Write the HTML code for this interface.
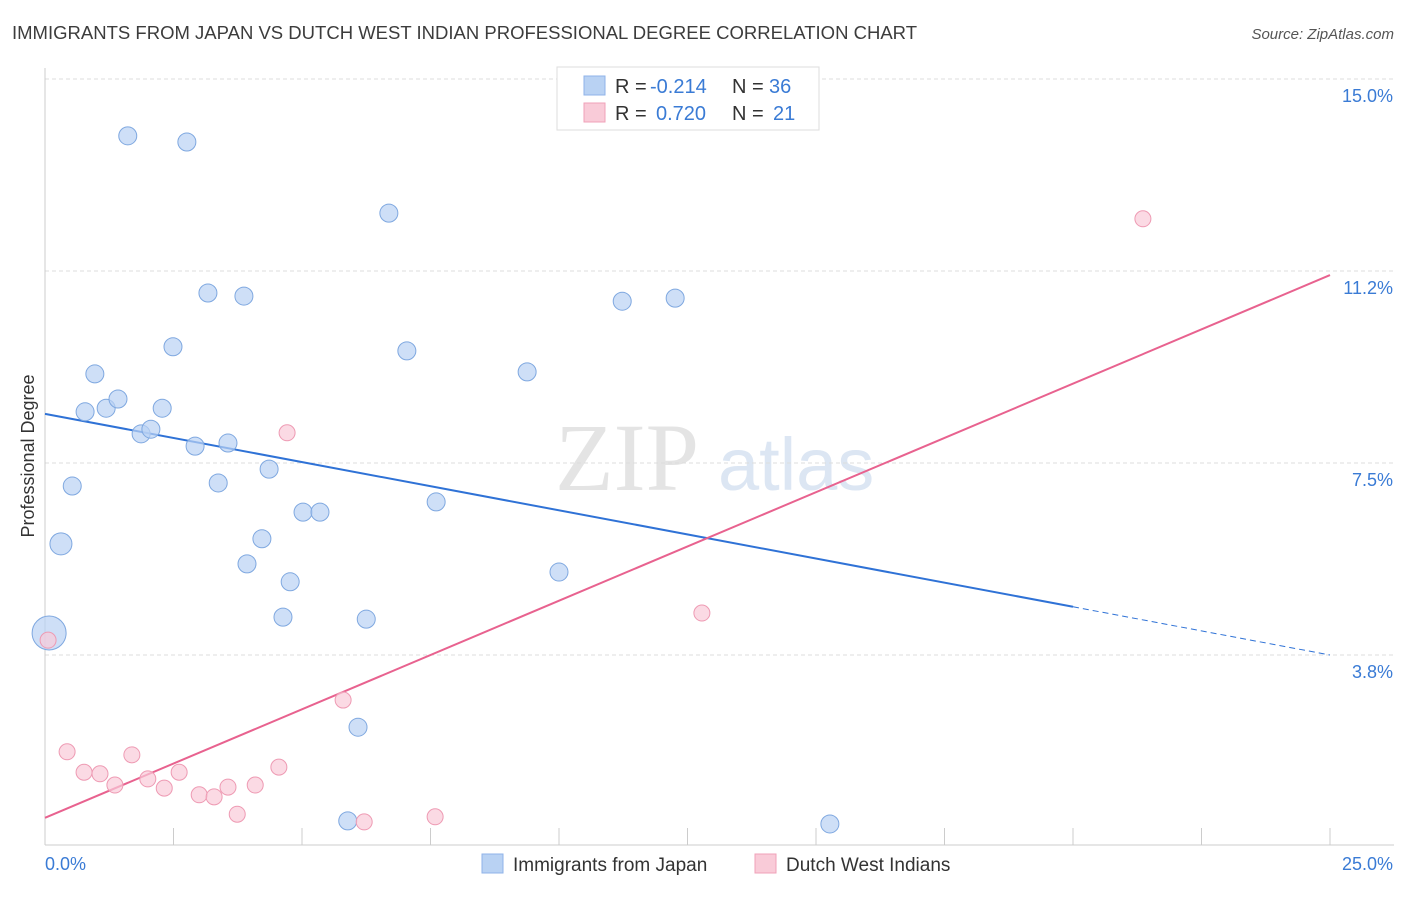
<!DOCTYPE html>
<html><head><meta charset="utf-8"><style>
body{margin:0;background:#fff;font-family:"Liberation Sans",sans-serif;}
</style></head><body>
<svg id="chart" width="1406" height="892" xmlns="http://www.w3.org/2000/svg" font-family="Liberation Sans, sans-serif">
<text x="12" y="39" font-size="18" fill="#3c3c3c" textLength="905" lengthAdjust="spacingAndGlyphs">IMMIGRANTS FROM JAPAN VS DUTCH WEST INDIAN PROFESSIONAL DEGREE CORRELATION CHART</text>
<text x="1394" y="39" font-size="15" fill="#555" text-anchor="end" font-style="italic">Source: ZipAtlas.com</text>
<text x="555" y="490" font-size="96" fill="#e4e4e4" font-family="Liberation Serif, serif">ZIP</text>
<text x="718" y="490" font-size="74" fill="#dce6f3">atlas</text>
<text transform="translate(34,456) rotate(-90)" font-size="18" fill="#333" text-anchor="middle">Professional Degree</text>
<g id="grid"></g><g id="axes"></g><g id="lines"></g><g id="pts"></g>
<g>
<rect x="557" y="67" width="262" height="63" fill="#fff" stroke="#ddd"/>
<rect x="584" y="76" width="21" height="19" fill="#b9d2f3" stroke="#8fb3e8"/>
<rect x="584" y="103" width="21" height="19" fill="#f9cbd8" stroke="#f0a1b8"/>
<text x="615" y="93" font-size="20" fill="#333">R =</text>
<text x="650" y="93" font-size="20" fill="#3a7bd5">-0.214</text>
<text x="732" y="93" font-size="20" fill="#333">N =</text>
<text x="769" y="93" font-size="20" fill="#3a7bd5">36</text>
<text x="615" y="120" font-size="20" fill="#333">R =</text>
<text x="656" y="120" font-size="20" fill="#3a7bd5">0.720</text>
<text x="732" y="120" font-size="20" fill="#333">N =</text>
<text x="773" y="120" font-size="20" fill="#3a7bd5">21</text>
</g>
<g>
<rect x="482" y="854" width="21" height="19" fill="#b9d2f3" stroke="#8fb3e8"/>
<text x="513" y="871" font-size="19" fill="#333">Immigrants from Japan</text>
<rect x="755" y="854" width="21" height="19" fill="#f9cbd8" stroke="#f0a1b8"/>
<text x="786" y="871" font-size="19" fill="#333">Dutch West Indians</text>
</g>
</svg>
<script>
const blueX=[1.61,2.76,6.69,3.17,3.87,11.23,12.26,2.49,7.04,0.97,9.38,0.78,1.19,1.42,2.28,1.87,2.06,2.92,3.56,0.53,3.37,4.36,7.61,5.02,5.35,0.31,4.22,3.93,4.77,10.0,4.63,6.25,0.08,6.09,5.89,15.27];
const blueY=[13.89,13.77,12.38,10.82,10.76,10.66,10.72,9.77,9.69,9.24,9.28,8.50,8.57,8.75,8.57,8.07,8.16,7.83,7.89,7.05,7.11,7.38,6.74,6.54,6.54,5.92,6.02,5.53,5.18,5.37,4.49,4.45,4.18,2.34,0.51,0.45];
const blueR=[9,9,9,9,9,9,9,9,9,9,9,9,9,9,9,9,9,9,9,9,9,9,9,9,9,11,9,9,9,9,9,9,17,9,9,9];
const pinkX=[21.36,4.71,12.78,5.80,0.06,0.43,1.69,0.76,1.07,1.36,2.00,2.32,2.61,3.00,3.29,3.56,4.09,4.55,3.74,6.21,7.59];
const pinkY=[12.27,8.09,4.57,2.87,4.04,1.86,1.80,1.46,1.43,1.21,1.33,1.15,1.46,1.02,0.98,1.17,1.21,1.56,0.64,0.49,0.59];
const blueTrend=[8.46,3.75];
const pinkTrend=[0.57,11.17];
const yTicks=[3.75,7.5,11.25,15];
const yTickLabels=["3.8%","7.5%","11.2%","15.0%"];
const xTicks=[0,2.5,5,7.5,10,12.5,15,17.5,20,22.5,25];
const NS="http://www.w3.org/2000/svg";
const X=v=>45+v*51.4, Y=v=>847-v*51.2;
function mk(tag,parent,attrs){const e=document.createElementNS(NS,tag);for(const k in attrs)e.setAttribute(k,attrs[k]);document.getElementById(parent).appendChild(e);return e;}
yTicks.forEach((t,i)=>{
 const l=mk('line','grid',{x1:45,x2:1394,y1:Y(t),y2:Y(t),stroke:'#ddd','stroke-dasharray':'4,3'});
 
 
 const tx=mk('text','grid',{x:1393,y:Y(t)+23,'font-size':18,fill:'#3a7bd5','text-anchor':'end'});
 tx.textContent=yTickLabels[i];
 
 
});
const ax=mk('line','axes',{x1:45,x2:45,y1:68,y2:845,stroke:'#ccc'});


const bx=mk('line','axes',{x1:45,x2:1394,y1:845,y2:845,stroke:'#ccc'});


xTicks.forEach(t=>{const l=mk('line','axes',{x1:X(t),x2:X(t),y1:828,y2:845,stroke:'#ccc'});
 
 });
const xl0=mk('text','axes',{x:45,y:870,'font-size':18,fill:'#3a7bd5'});xl0.textContent='0.0%';


const xl1=mk('text','axes',{x:1393,y:870,'font-size':18,fill:'#3a7bd5','text-anchor':'end'});xl1.textContent='25.0%';


blueX.forEach((x,i)=>{const c=mk('circle','pts',{cx:X(x),cy:Y(blueY[i]),r:blueR[i],fill:'rgba(185,210,243,0.7)',stroke:'#7fa8e0','stroke-width':1});
 
 });
pinkX.forEach((x,i)=>{const c=mk('circle','pts',{cx:X(x),cy:Y(pinkY[i]),r:8,fill:'rgba(249,203,216,0.7)',stroke:'#ee9ab3','stroke-width':1});
 
 });
const bAt=v=>blueTrend[0]+(blueTrend[1]-blueTrend[0])*v/25;
const b1=mk('line','lines',{x1:X(0),y1:Y(bAt(0)),x2:X(20),y2:Y(bAt(20)),stroke:'#2f72d6','stroke-width':2});


const b2=mk('line','lines',{x1:X(20),y1:Y(bAt(20)),x2:X(25),y2:Y(bAt(25)),stroke:'#2f72d6','stroke-width':1,'stroke-dasharray':'6,4'});


const p1=mk('line','lines',{x1:X(0),y1:Y(pinkTrend[0]),x2:X(25),y2:Y(pinkTrend[1]),stroke:'#e8628f','stroke-width':2});


</script>
</body></html>
